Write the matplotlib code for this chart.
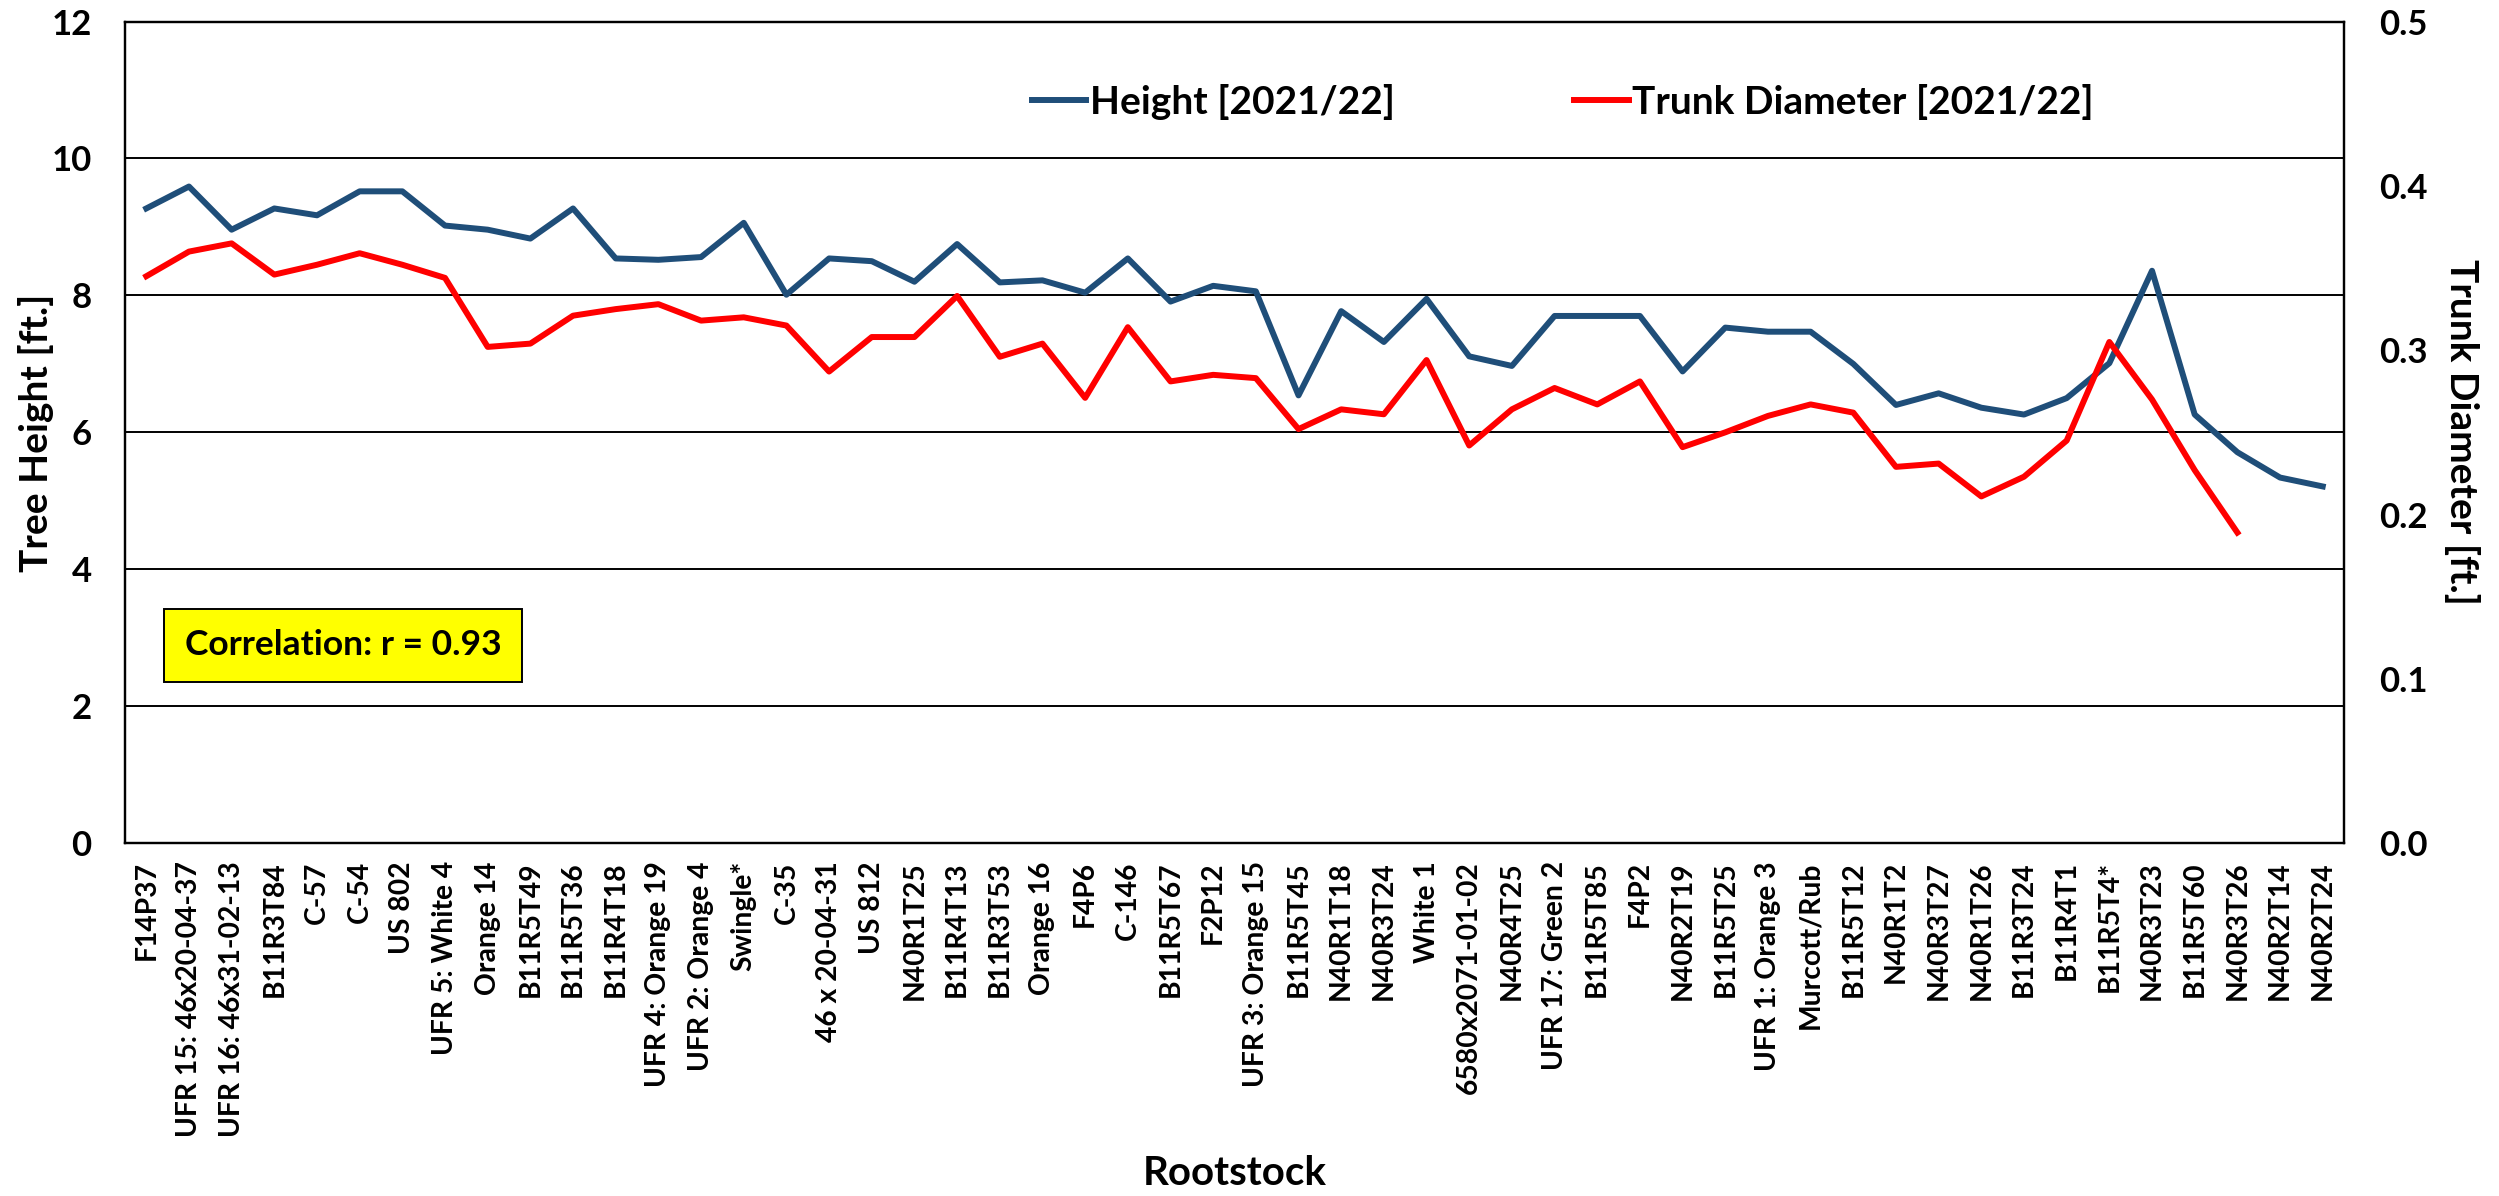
import numpy as np
import matplotlib.pyplot as plt

# rootstocks in the order shown on the x axis
rootstocks = [
    "F14P37", "UFR 15: 46x20-04-37", "UFR 16: 46x31-02-13", "B11R3T84", "C-57",
    "C-54", "US 802", "UFR 5: White 4", "Orange 14", "B11R5T49", "B11R5T36",
    "B11R4T18", "UFR 4: Orange 19", "UFR 2: Orange 4", "Swingle*", "C-35",
    "46 x 20-04-31", "US 812", "N40R1T25", "B11R4T13", "B11R3T53", "Orange 16",
    "F4P6", "C-146", "B11R5T67", "F2P12", "UFR 3: Orange 15", "B11R5T45",
    "N40R1T18", "N40R3T24", "White 1", "6580x2071-01-02", "N40R4T25",
    "UFR 17: Green 2", "B11R5T85", "F4P2", "N40R2T19", "B11R5T25",
    "UFR 1: Orange 3", "Murcott/Rub", "B11R5T12", "N40R1T2", "N40R3T27",
    "N40R1T26", "B11R3T24", "B11R4T1", "B11R5T4*", "N40R3T23", "B11R5T60",
    "N40R3T26", "N40R2T14", "N40R2T24",
]

# tree height [ft.] (left axis)
height = [
    9.27, 9.59, 8.96, 9.27, 9.17, 9.52, 9.52, 9.02, 8.96, 8.83, 9.27, 8.54,
    8.52, 8.56, 9.06, 8.01, 8.54, 8.50, 8.20, 8.75, 8.19, 8.22, 8.04, 8.54,
    7.91, 8.14, 8.06, 6.54, 7.77, 7.32, 7.95, 7.11, 6.97, 7.70, 7.70, 7.70,
    6.89, 7.53, 7.47, 7.47, 7.00, 6.40, 6.57, 6.36, 6.26, 6.50, 7.01, 8.36,
    6.26, 5.71, 5.34, 5.21,
]

# trunk diameter [ft.] (right axis), last two missing
trunk = [
    0.345, 0.360, 0.365, 0.346, 0.352, 0.359, 0.352, 0.344, 0.302, 0.304,
    0.321, 0.325, 0.328, 0.318, 0.320, 0.315, 0.287, 0.308, 0.308, 0.333,
    0.296, 0.304, 0.271, 0.314, 0.281, 0.285, 0.283, 0.252, 0.264, 0.261,
    0.294, 0.242, 0.264, 0.277, 0.267, 0.281, 0.241, 0.250, 0.260, 0.267,
    0.262, 0.229, 0.231, 0.211, 0.223, 0.245, 0.305, 0.270, 0.227, 0.189,
    np.nan, np.nan,
]

plt.rcParams['font.family'] = ['Lato', 'DejaVu Sans']
plt.rcParams['font.weight'] = 'bold'

fig = plt.figure(figsize=(24.99, 11.96), dpi=100)
ax = fig.add_axes([0.050, 0.295, 0.888, 0.687])
ax2 = ax.twinx()

x = np.arange(len(rootstocks))
l1, = ax.plot(x, height, color='#1F4E79', lw=4.3, label='Height [2021/22]')
l2, = ax2.plot(x, trunk, color='#FF0000', lw=4.3, label='Trunk Diameter [2021/22]')

ax.set_xlim(-0.5, len(rootstocks) - 0.5)
ax.set_ylim(0, 12)
ax.set_yticks(range(0, 13, 2))
ax2.set_ylim(0, 0.5)
ax2.set_yticks(np.arange(0, 0.51, 0.1))
ax2.set_yticklabels([f"{v:.1f}" for v in np.arange(0, 0.51, 0.1)])

# horizontal grid from the left axis
for yv in range(2, 12, 2):
    ax.axhline(yv, color='black', lw=1.4, zorder=0)

ax.set_xticks(x)
ax.set_xticklabels(rootstocks, rotation=90, fontsize=20.3, fontweight='bold')
ax.tick_params(axis='x', length=0, pad=13)
ax.tick_params(axis='y', length=0, pad=24, labelsize=25)
ax2.tick_params(axis='y', length=0, pad=25, labelsize=25)

for a in (ax, ax2):
    for s in a.spines.values():
        s.set_color('black')
        s.set_linewidth(1.6)

ax.set_xlabel('Rootstock', fontsize=29, fontweight='bold')
ax.xaxis.set_label_coords(0.5, -0.380)
ax.set_ylabel('Tree Height [ft.]', fontsize=28, fontweight='bold')
ax.yaxis.set_label_coords(-0.032, 0.5)
ax2.set_ylabel('Trunk Diameter [ft.]', fontsize=28, fontweight='bold',
               rotation=-90, labelpad=38)

ax2.legend(handles=[l1, l2], loc='center', bbox_to_anchor=(0.648, 0.902),
           ncol=2, frameon=False, handlelength=1.4,
           handletextpad=0.1, columnspacing=4.6, prop={'weight': 'bold', 'size': 28})

ax.text(0.027, 0.241, 'Correlation: r = 0.93', transform=ax.transAxes,
        fontsize=25.5, fontweight='bold', va='center', ha='left',
        bbox=dict(boxstyle='square,pad=0.58', facecolor='#FFFF00',
                  edgecolor='black', lw=1.4))

fig.savefig('out.png', dpi=100)
